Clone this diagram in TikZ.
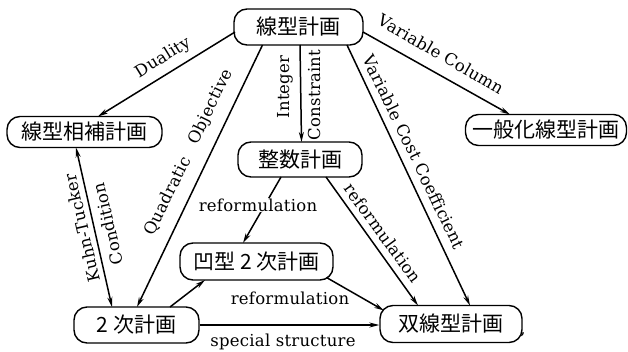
\documentclass[tikz,border=0pt]{standalone}
\usepackage{fontspec}
\setmainfont{DejaVu Serif}[LetterSpace=1.5]
\newfontfamily\cjk{Noto Sans CJK JP}
\usetikzlibrary{arrows.meta,calc}
\begin{document}
\begin{tikzpicture}[x=1pt,y=-1pt,
  box/.style={draw, line width=1.4pt, rounded corners=13pt, inner sep=0pt,
    font=\cjk\fontsize{21}{21}\selectfont},
  lbl/.style={font=\fontsize{16.5}{16.5}\selectfont, inner sep=1pt},
  edge/.style={line width=1.5pt, -{Stealth[length=10pt,width=5pt]}},
  dedge/.style={line width=1.5pt, {Stealth[length=10pt,width=5pt]}-{Stealth[length=10pt,width=5pt]}},
]
\useasboundingbox (0,0) rectangle (628,351);

% nodes
\node[box, minimum width=129pt, minimum height=36pt] (L)  at (298.5,27)  {線型計画};
\node[box, minimum width=155pt, minimum height=31pt] (LC) at (84.5,132)  {線型相補計画};
\node[box, minimum width=161pt, minimum height=31pt] (G)  at (546,130)   {一般化線型計画};
\node[box, minimum width=124pt, minimum height=35pt] (I)  at (300,159.5) {整数計画};
\node[box, minimum width=153pt, minimum height=37pt] (C)  at (256.5,261.5) {凹型 2 次計画};
\node[box, minimum width=125pt, minimum height=36pt] (Q)  at (136.5,325) {2 次計画};
\node[box, minimum width=142pt, minimum height=37pt] (B)  at (451,324)   {双線型計画};
\node[lbl] (comma) at (523,335) {,};

% connectors
\draw[edge] ($(L.center)+(-63.5,5)$) -- ($(LC.center)+(13.5,-15.5)$);
\draw[edge] ($(L.center)+(64.5,5)$) -- ($(G.center)+(-36,-15.5)$);
\draw[edge] ($(L.center)+(-36,18)$) -- ($(Q.center)+(0.5,-18)$);
\draw[edge] ($(L.center)+(1.5,18)$) -- ($(I.center)+(1.5,-17.5)$);
\draw[edge] ($(L.center)+(48.5,18)$) -- ($(B.center)+(19,-18.5)$);
\draw[edge] ($(I.center)+(-19,17.5)$) -- ($(C.center)+(-13.5,-18.5)$);
\draw[edge] ($(I.center)+(26,17.5)$) -- ($(B.center)+(-33,-18.5)$);
\draw[edge] ($(C.center)+(70,16)$) -- ($(B.center)+(-67,-13.5)$);
\draw[edge] ($(Q.center)+(33.5,-18)$) -- ($(C.center)+(-51.5,18.5)$);
\draw[edge] (Q.east) -- (Q.east -| B.west);
\draw[dedge] ($(LC.center)+(-8.5,15.5)$) -- ($(Q.center)+(-24.5,-18)$);

% labels
\node[lbl, rotate=31.8] (duality) at (163,58) {Duality};
\node[lbl, rotate=-30] (varcol) at (441,54) {Variable Column};
\node[lbl, rotate=63.9] (quad) at (168,196) {Quadratic};
\node[lbl, rotate=63.9] (obj) at (211,107) {Objective};
\node[lbl, rotate=90] (integer) at (285,87) {Integer};
\node[lbl, rotate=90] (constr) at (314,95) {Constraint};
\node[lbl, rotate=-64.3] (varcost) at (414,152) {Variable Cost Coefficient};
\node[lbl, rotate=103] (kuhn) at (82,228) {Kuhn-Tucker};
\node[lbl, rotate=103] (cond) at (108,224) {Condition};
\node[lbl, fill=white] (ref1) at (258,205) {reformulation};
\node[lbl, rotate=-53.8] (ref2) at (383,233) {reformulation};
\node[lbl] (ref3) at (290,298) {reformulation};
\node[lbl] (spec) at (283,342) {special structure};
\end{tikzpicture}
\end{document}
